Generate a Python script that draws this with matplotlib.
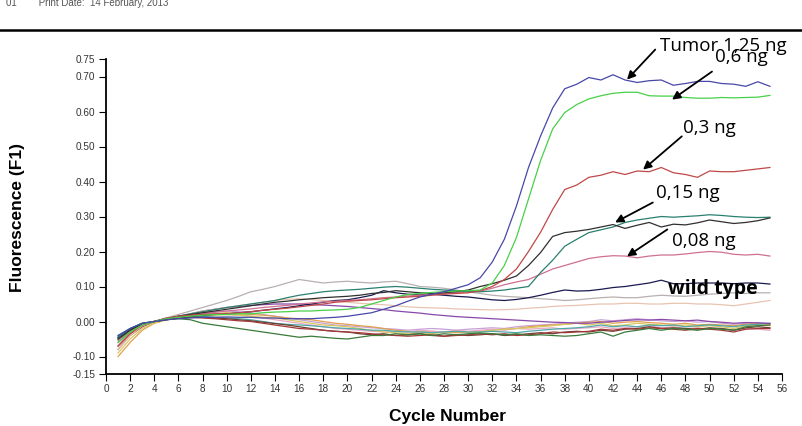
import matplotlib
matplotlib.use("Agg")
import matplotlib.pyplot as plt
from matplotlib.lines import Line2D

cycles = list(range(1, 56))

tumor_125 = [-0.04, -0.02, -0.005, 0.0, 0.005, 0.008, 0.01, 0.012, 0.012, 0.013,
             0.012, 0.012, 0.01, 0.01, 0.008, 0.008, 0.008, 0.01, 0.012, 0.015,
             0.02, 0.025, 0.035, 0.045, 0.058, 0.07, 0.078, 0.085, 0.095, 0.105,
             0.125, 0.17, 0.235, 0.33, 0.44, 0.53, 0.61, 0.665, 0.678, 0.697,
             0.69, 0.705, 0.69, 0.683, 0.688, 0.69, 0.675, 0.68, 0.686, 0.686,
             0.68, 0.678, 0.672, 0.685, 0.672]
ng_06 = [-0.06, -0.03, -0.01, 0.0, 0.008, 0.012, 0.015, 0.018, 0.02, 0.02,
         0.022, 0.022, 0.025, 0.027, 0.028, 0.03, 0.03, 0.032, 0.033, 0.035,
         0.04, 0.05, 0.06, 0.07, 0.077, 0.08, 0.083, 0.085, 0.087, 0.088,
         0.09, 0.11, 0.16, 0.24, 0.35, 0.46, 0.55, 0.597, 0.62, 0.636,
         0.645, 0.652, 0.655, 0.655, 0.645, 0.644, 0.644, 0.64, 0.638, 0.638,
         0.64, 0.639, 0.64, 0.641, 0.646]
ng_03 = [-0.07, -0.035, -0.01, 0.0, 0.01, 0.015, 0.018, 0.02, 0.022, 0.022,
         0.025, 0.028, 0.032, 0.035, 0.038, 0.042, 0.046, 0.05, 0.055, 0.058,
         0.06, 0.062, 0.065, 0.068, 0.07, 0.072, 0.075, 0.078, 0.08, 0.082,
         0.088, 0.1, 0.12, 0.15, 0.2, 0.255, 0.32, 0.377, 0.39, 0.412,
         0.418, 0.428, 0.42, 0.43, 0.428, 0.44, 0.425, 0.42, 0.412, 0.43,
         0.428, 0.428, 0.432, 0.436, 0.44]
ng_015_a = [-0.05, -0.025, -0.008, 0.0, 0.008, 0.015, 0.02, 0.025, 0.03, 0.035,
            0.04, 0.045, 0.05, 0.055, 0.058, 0.062, 0.065, 0.068, 0.07, 0.072,
            0.075, 0.08, 0.083, 0.088, 0.085, 0.082, 0.08, 0.082, 0.085, 0.09,
            0.1, 0.108, 0.118, 0.13, 0.16, 0.197, 0.243, 0.254, 0.258, 0.263,
            0.27, 0.277, 0.266, 0.275, 0.283, 0.27, 0.278, 0.276, 0.282, 0.29,
            0.285, 0.28, 0.283, 0.288, 0.296]
ng_015_b = [-0.045, -0.02, -0.005, 0.0, 0.008, 0.015, 0.022, 0.028, 0.034, 0.04,
            0.045, 0.05, 0.055, 0.06, 0.068, 0.075, 0.08, 0.085, 0.088, 0.09,
            0.092, 0.095, 0.098, 0.1, 0.098, 0.095, 0.092, 0.09, 0.088, 0.085,
            0.085, 0.087, 0.09, 0.095, 0.1, 0.14, 0.175, 0.215, 0.235, 0.254,
            0.262, 0.27, 0.283, 0.29, 0.295, 0.3, 0.298, 0.3, 0.302, 0.305,
            0.303, 0.3, 0.298, 0.297, 0.298]
ng_008 = [-0.055, -0.028, -0.008, 0.0, 0.008, 0.012, 0.018, 0.022, 0.026, 0.03,
          0.033, 0.036, 0.04, 0.043, 0.046, 0.05, 0.053, 0.056, 0.058, 0.06,
          0.062, 0.065, 0.068, 0.07, 0.073, 0.075, 0.078, 0.08, 0.082, 0.085,
          0.087, 0.095, 0.105, 0.113, 0.12, 0.135, 0.15, 0.16, 0.17, 0.18,
          0.185, 0.188, 0.187, 0.182, 0.187, 0.19, 0.19, 0.193, 0.197, 0.2,
          0.198, 0.192, 0.19, 0.192, 0.187]
wild_type = [-0.045, -0.022, -0.006, 0.0, 0.006, 0.01, 0.014, 0.018, 0.02, 0.022,
             0.025, 0.028, 0.032, 0.036, 0.04, 0.045, 0.05, 0.055, 0.06, 0.062,
             0.068, 0.075, 0.088, 0.082, 0.078, 0.076, 0.078, 0.075, 0.072, 0.07,
             0.066, 0.062, 0.06, 0.063, 0.068, 0.075, 0.083, 0.09, 0.087, 0.088,
             0.092, 0.097, 0.1, 0.105, 0.11, 0.118, 0.108, 0.108, 0.11, 0.11,
             0.11, 0.108, 0.11, 0.11, 0.107]
wt_gray = [-0.06, -0.03, -0.01, 0.0, 0.01, 0.02, 0.03, 0.04, 0.05, 0.06,
           0.072, 0.085, 0.092, 0.1, 0.11, 0.12, 0.115, 0.11, 0.113, 0.115,
           0.112, 0.11, 0.113, 0.115, 0.108, 0.1, 0.098, 0.095, 0.09, 0.085,
           0.08, 0.075, 0.072, 0.07, 0.068, 0.065, 0.063, 0.06, 0.062, 0.065,
           0.068, 0.07, 0.068, 0.068, 0.072, 0.075, 0.073, 0.072, 0.075, 0.078,
           0.08, 0.082, 0.08, 0.082, 0.082]
wt_peach = [-0.08, -0.04, -0.012, 0.0, 0.008, 0.015, 0.022, 0.03, 0.035, 0.04,
            0.045, 0.05, 0.055, 0.06, 0.063, 0.065, 0.063, 0.06, 0.058, 0.055,
            0.052, 0.05, 0.048, 0.045, 0.042, 0.04, 0.039, 0.038, 0.036, 0.035,
            0.034, 0.033, 0.034, 0.035, 0.038, 0.04, 0.043, 0.045, 0.046, 0.048,
            0.05, 0.05, 0.052, 0.052, 0.05, 0.05, 0.052, 0.052, 0.05, 0.05,
            0.048, 0.045, 0.05, 0.055, 0.06]
neg_purple = [-0.045, -0.022, -0.006, 0.0, 0.008, 0.015, 0.022, 0.03, 0.035, 0.04,
              0.043, 0.046, 0.048, 0.05, 0.05, 0.05, 0.048, 0.047, 0.045, 0.043,
              0.04, 0.037, 0.034, 0.03, 0.027, 0.024, 0.02, 0.017, 0.014, 0.012,
              0.01, 0.008, 0.006, 0.004, 0.002, 0.0, -0.002, -0.003, -0.005, -0.005,
              -0.002, 0.0, 0.003, 0.005, 0.004, 0.006, 0.004, 0.002, 0.004, 0.0,
              -0.002, -0.005, -0.003, -0.004, -0.006]
neg_dkgreen = [-0.05, -0.03, -0.01, 0.0, 0.005, 0.008, 0.005, -0.005, -0.01, -0.015,
               -0.02, -0.025, -0.03, -0.035, -0.04, -0.045, -0.042, -0.045, -0.048, -0.05,
               -0.045, -0.04, -0.04, -0.035, -0.038, -0.035, -0.04, -0.035, -0.038, -0.035,
               -0.033, -0.035, -0.038, -0.035, -0.04, -0.038, -0.04, -0.042, -0.04, -0.035,
               -0.03, -0.042, -0.03, -0.025, -0.02, -0.025, -0.02, -0.022, -0.025, -0.02,
               -0.022, -0.025, -0.015, -0.012, -0.01]
neg_teal = [-0.04, -0.02, -0.005, 0.0, 0.005, 0.01, 0.012, 0.015, 0.012, 0.01,
            0.008, 0.005, 0.0, -0.005, -0.008, -0.01, -0.012, -0.015, -0.018, -0.02,
            -0.022, -0.025, -0.025, -0.028, -0.03, -0.03, -0.032, -0.03, -0.028, -0.03,
            -0.03, -0.028, -0.03, -0.032, -0.028, -0.025, -0.022, -0.02, -0.018, -0.015,
            -0.01, -0.015, -0.012, -0.015, -0.01, -0.012, -0.01, -0.015, -0.012, -0.01,
            -0.012, -0.015, -0.01, -0.008, -0.005]
neg_yellow = [-0.09, -0.05, -0.02, -0.005, 0.005, 0.01, 0.012, 0.015, 0.018, 0.02,
              0.018, 0.015, 0.012, 0.01, 0.005, 0.0, -0.005, -0.01, -0.012, -0.015,
              -0.02, -0.025, -0.03, -0.032, -0.035, -0.032, -0.035, -0.03, -0.028, -0.03,
              -0.03, -0.025, -0.022, -0.02, -0.018, -0.015, -0.012, -0.008, -0.005, -0.01,
              -0.005, -0.012, -0.01, -0.005, -0.008, -0.01, -0.012, -0.01, -0.015, -0.012,
              -0.015, -0.02, -0.012, -0.01, -0.012]
neg_brown = [-0.07, -0.035, -0.012, 0.0, 0.005, 0.01, 0.012, 0.012, 0.01, 0.008,
             0.005, 0.002, -0.002, -0.006, -0.01, -0.015, -0.02, -0.025, -0.028, -0.03,
             -0.035, -0.038, -0.035, -0.04, -0.038, -0.035, -0.04, -0.042, -0.038, -0.04,
             -0.038, -0.035, -0.04, -0.038, -0.035, -0.032, -0.035, -0.03, -0.028, -0.03,
             -0.025, -0.028, -0.022, -0.02, -0.015, -0.02, -0.018, -0.02, -0.022, -0.018,
             -0.02, -0.025, -0.018, -0.015, -0.018]
neg_pink = [-0.06, -0.03, -0.01, 0.0, 0.008, 0.012, 0.018, 0.02, 0.022, 0.02,
            0.018, 0.015, 0.01, 0.005, 0.0, -0.005, -0.01, -0.015, -0.02, -0.022,
            -0.025, -0.028, -0.03, -0.028, -0.03, -0.025, -0.028, -0.03, -0.025, -0.028,
            -0.025, -0.022, -0.025, -0.02, -0.022, -0.02, -0.018, -0.022, -0.02, -0.018,
            -0.015, -0.02, -0.018, -0.015, -0.012, -0.018, -0.015, -0.02, -0.018, -0.022,
            -0.02, -0.025, -0.02, -0.022, -0.025]
neg_darkred = [-0.08, -0.04, -0.015, 0.0, 0.008, 0.01, 0.012, 0.01, 0.008, 0.005,
               0.002, 0.0, -0.005, -0.01, -0.015, -0.02, -0.022, -0.025, -0.028, -0.03,
               -0.032, -0.035, -0.038, -0.04, -0.042, -0.04, -0.038, -0.042, -0.04, -0.038,
               -0.035, -0.038, -0.035, -0.04, -0.038, -0.035, -0.03, -0.032, -0.03, -0.028,
               -0.022, -0.025, -0.02, -0.022, -0.018, -0.02, -0.022, -0.025, -0.02, -0.022,
               -0.025, -0.03, -0.022, -0.02, -0.02]
neg_orange = [-0.1, -0.06, -0.025, -0.005, 0.005, 0.01, 0.015, 0.02, 0.022, 0.025,
              0.022, 0.02, 0.018, 0.015, 0.01, 0.008, 0.005, 0.0, -0.005, -0.008,
              -0.012, -0.015, -0.02, -0.025, -0.028, -0.03, -0.028, -0.03, -0.032, -0.03,
              -0.028, -0.025, -0.022, -0.02, -0.015, -0.012, -0.01, -0.008, -0.005, -0.002,
              0.0, -0.005, -0.002, 0.0, -0.003, -0.005, -0.008, -0.005, -0.01, -0.008,
              -0.01, -0.012, -0.008, -0.005, -0.008]
neg_lavender = [-0.05, -0.025, -0.008, 0.0, 0.01, 0.015, 0.02, 0.025, 0.028, 0.03,
                0.028, 0.025, 0.02, 0.015, 0.01, 0.005, 0.0, -0.005, -0.01, -0.012,
                -0.015, -0.018, -0.02, -0.022, -0.025, -0.022, -0.02, -0.022, -0.025, -0.022,
                -0.02, -0.018, -0.02, -0.015, -0.012, -0.01, -0.008, -0.005, -0.002, 0.0,
                0.005, 0.002, 0.005, 0.008, 0.005, 0.002, 0.0, 0.002, -0.002, 0.0,
                -0.005, -0.008, -0.005, -0.003, -0.005]

y_ticks = [-0.15, -0.10, 0.00, 0.10, 0.20, 0.30, 0.40, 0.50, 0.60, 0.70, 0.75]
x_ticks = list(range(0, 57, 2))

series = [
    (neg_lavender, "#c8a0d8"), (neg_orange, "#e0a050"), (neg_pink, "#e8a8c8"),
    (neg_yellow, "#d8c860"), (neg_teal, "#50a8a8"), (neg_brown, "#6a4030"),
    (neg_darkred, "#a03838"), (neg_dkgreen, "#3a7a3a"), (neg_purple, "#8848a8"),
    (wt_peach, "#e8c4b0"), (wt_gray, "#b8b0b0"), (wild_type, "#1a1a50"),
    (ng_008, "#d07090"), (ng_015_b, "#2a8070"), (ng_015_a, "#303030"),
    (ng_03, "#c04848"), (ng_06, "#48d048"), (tumor_125, "#4848a8"),
]

fig = plt.figure(figsize=(8.03, 4.26), dpi=100)
ax = fig.add_axes([106 / 803, 1 - 374 / 426, 676 / 803, (374 - 59) / 426])

for vals, col in series:
    ax.plot(cycles, vals, color=col, lw=0.9)

ax.set_xlim(0, 56)
ax.set_ylim(-0.15, 0.75)
ax.set_xticks(x_ticks)
ax.set_xticklabels([str(t) for t in x_ticks])
ax.set_yticks(y_ticks)
ax.set_yticklabels([f"{t:.2f}" for t in y_ticks])
for s in ["top", "right"]:
    ax.spines[s].set_visible(False)
for s in ["left", "bottom"]:
    ax.spines[s].set_linewidth(1.3)
ax.tick_params(axis="both", direction="out", length=5, width=0.8, pad=2.5,
               labelsize=7.2, labelcolor="#333333")
for lab in ax.get_xticklabels() + ax.get_yticklabels():
    lab.set_family("Liberation Sans")

fig.text(18 / 803, 1 - 218 / 426, "Fluorescence (F1)", rotation=90, ha="center",
         va="center", fontsize=12.5, fontweight="bold", family="Liberation Sans")
fig.text(448 / 803, 1 - 416 / 426, "Cycle Number", ha="center", va="center",
         fontsize=12.5, fontweight="bold", family="Liberation Sans")

# header
fig.text(6 / 803, 1 - 3 / 426, "01        Print Date:  14 February, 2013", ha="left",
         va="center", fontsize=7, color="#555555", family="Liberation Sans")
fig.add_artist(Line2D([0, 1], [1 - 30 / 426, 1 - 30 / 426], color="black", lw=1.8,
                      transform=fig.transFigure))

# annotations
labels = [
    ("Tumor 1,25 ng", (51.1, 0.788), (45.5, 0.777), (43.16, 0.691)),
    ("0,6 ng", (52.6, 0.755), (50.2, 0.714), (46.89, 0.634)),
    ("0,3 ng", (50.0, 0.554), (47.7, 0.529), (44.49, 0.434)),
    ("0,15 ng", (48.2, 0.366), (45.3, 0.34), (42.17, 0.283)),
    ("0,08 ng", (49.5, 0.231), (46.5, 0.263), (43.16, 0.186)),
]
for txt, tpos, tail, head in labels:
    ax.text(tpos[0], tpos[1], txt, ha="center", va="center", fontsize=13.5,
            family="Open Sans", color="black", clip_on=False)
    ax.annotate("", xy=head, xytext=tail, annotation_clip=False,
                arrowprops=dict(arrowstyle="-|>", color="black", lw=1.3,
                                mutation_scale=12, shrinkA=0, shrinkB=0))
ax.text(50.3, 0.094, "wild type", ha="center", va="center", fontsize=14,
        fontweight="bold", family="Open Sans", color="black")

fig.savefig("out.png", dpi=100, facecolor="white")
